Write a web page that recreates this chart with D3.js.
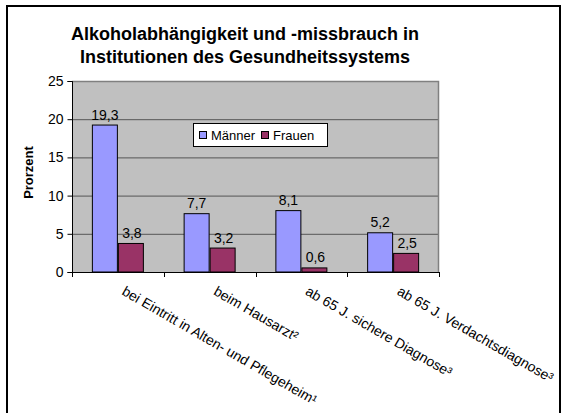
<!DOCTYPE html>
<html><head><meta charset="utf-8">
<script src="https://cdn.jsdelivr.net/npm/d3@7"></script>
<style>body{margin:0;background:#fff}svg{display:block;font-family:Arial,"Liberation Sans",sans-serif}</style>
</head><body><svg id="c" width="563" height="413"></svg>
<script>
const categories = ["bei Eintritt in Alten- und Pflegeheim\u00B9","beim Hausarzt\u00B2","ab 65 J. sichere Diagnose\u00B3","ab 65 J. Verdachtsdiagnose\u00B3"];
const seriesNames = ["Männer","Frauen"];
const maenner = [19.3, 7.7, 8.1, 5.2];
const frauen = [3.8, 3.2, 0.6, 2.5];
const yTicks = [0,5,10,15,20,25];
const titleLines = ["Alkoholabhängigkeit und -missbrauch in","Institutionen des Gesundheitssystems"];
const yLabel = "Prorzent";
const colors = ["#9999FF","#993366"];

const svg = d3.select("#c");
// outer frame
svg.append("rect").attr("x",7).attr("y",6).attr("width",553).attr("height",420)
  .attr("fill","#fff").attr("stroke","#000").attr("stroke-width",2);

const L=72,R=439,T=81,B=272;
const x = d3.scaleBand().domain(categories).range([L,R]);
const xs = d3.scaleBand().domain(seriesNames).range([0,52]);
const y = d3.scaleLinear().domain([0,25]).range([B,T]);

svg.append("rect").attr("x",L).attr("y",T).attr("width",R-L).attr("height",B-T).attr("fill","#C0C0C0");
// gridlines
svg.append("g").selectAll("line").data(yTicks.filter(d=>d>0&&d<25)).join("line")
  .attr("x1",L).attr("x2",R).attr("y1",d=>y(d)+0.5).attr("y2",d=>y(d)+0.5).attr("stroke","#555").attr("stroke-width",1);
// plot border top/right
svg.append("path").attr("d",`M${L},${T+0.5}H${R-0.5}V${B}`).attr("fill","none").attr("stroke","#808080").attr("stroke-width",1.5);

const data = [maenner, frauen];
const groups = svg.append("g");
data.forEach((vals,si)=>{
  groups.append("g").selectAll("rect").data(vals).join("rect")
    .attr("x",(d,i)=>x(categories[i])+(x.bandwidth()-52)/2+xs(seriesNames[si])+0.5)
    .attr("y",d=>y(d)+0.5)
    .attr("width",xs.bandwidth()-1)
    .attr("height",d=>B-y(d)-0.5)
    .attr("fill",colors[si]).attr("stroke","#000").attr("stroke-width",1);
  groups.append("g").selectAll("text").data(vals).join("text")
    .attr("x",(d,i)=>x(categories[i])+(x.bandwidth()-52)/2+xs(seriesNames[si])+xs.bandwidth()/2+(si?1:0))
    .attr("y",d=>y(d)-5)
    .attr("text-anchor","middle").attr("font-size","14px").attr("fill","#000")
    .text(d=>String(d).replace(".",","));
});

// y axis
const ya = svg.append("g").attr("transform",`translate(${L+0.5},0)`)
  .call(d3.axisLeft(y).tickValues(yTicks).tickSize(5).tickPadding(4));
ya.select(".domain").attr("stroke","#000").attr("d",`M-5,${T+0.5}H0V${B+0.5}H-5`);
ya.selectAll("text").attr("font-size","14px").attr("font-family","Arial,'Liberation Sans',sans-serif").attr("fill","#000");
ya.selectAll("line").attr("stroke","#000");

// x axis
svg.append("line").attr("x1",L).attr("x2",R).attr("y1",B+0.5).attr("y2",B+0.5).attr("stroke","#000");
const bounds = categories.map(c=>x(c)).concat([R]);
svg.append("g").selectAll("line").data(bounds).join("line")
  .attr("x1",d=>Math.round(d)+0.5).attr("x2",d=>Math.round(d)+0.5).attr("y1",B).attr("y2",B+5).attr("stroke","#000");

svg.append("g").selectAll("text").data(categories).join("text")
  .attr("transform",d=>`translate(${x(d)+x.bandwidth()/2+3},${B+22}) rotate(30)`)
  .attr("font-size","14px").attr("fill","#000").text(d=>d);

// y label
svg.append("text").attr("transform",`translate(33,${(T+B)/2-4}) rotate(-90)`)
  .attr("text-anchor","middle").attr("font-size","13px").attr("font-weight","bold").text(yLabel);

// title
svg.append("g").selectAll("text").data(titleLines).join("text")
  .attr("x",245).attr("y",(d,i)=>40+i*23).attr("text-anchor","middle")
  .attr("font-size","18px").attr("font-weight","bold").text(d=>d);

// legend
const lg = svg.append("g").attr("transform","translate(193,123)");
lg.append("rect").attr("x",0.5).attr("y",0.5).attr("width",134).attr("height",23).attr("fill","#fff").attr("stroke","#000");
seriesNames.forEach((s,i)=>{
  const ox = i? 68:6;
  lg.append("rect").attr("x",ox+0.5).attr("y",8.5).attr("width",7).attr("height",7).attr("fill",colors[i]).attr("stroke","#000");
  lg.append("text").attr("x",ox+12).attr("y",17).attr("font-size","13px").text(s);
});
</script></body></html>
